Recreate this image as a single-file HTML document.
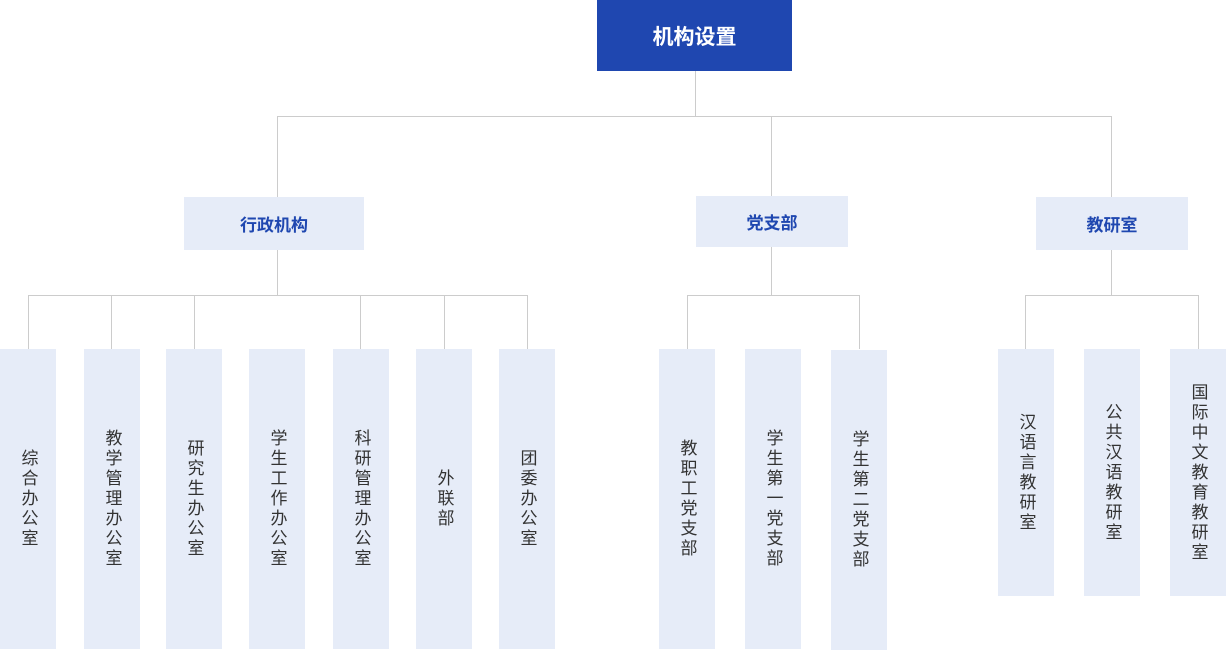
<!DOCTYPE html>
<html><head><meta charset="utf-8"><style>
*{margin:0;padding:0;box-sizing:border-box}
body{width:1226px;height:650px;position:relative;background:#fff;font-family:"Liberation Sans","Noto Sans CJK SC",sans-serif;overflow:hidden}
.b{position:absolute;display:flex;align-items:center;justify-content:center}
.top{background:#1f47b0;color:#fff;font-size:21px;font-weight:bold}
.l2{background:#e6ecf8;color:#1f47b0;font-size:17px;font-weight:bold}
.lf{background:#e6ecf8;color:#333;font-size:17px;width:56px}
.lf span{writing-mode:vertical-rl;letter-spacing:3px}
.h,.v{position:absolute;background:#cccccc}
.h{height:1px}.v{width:1px}
</style></head><body>
<div class="b top" style="left:597px;top:0;width:195px;height:71px">机构设置</div>
<div class="v" style="left:695px;top:71px;height:45px"></div>
<div class="h" style="left:277px;top:116px;width:835px"></div>
<div class="v" style="left:277px;top:116px;height:81px"></div>
<div class="v" style="left:771px;top:116px;height:80px"></div>
<div class="v" style="left:1111px;top:116px;height:81px"></div>
<div class="b l2" style="left:184px;top:197px;width:180px;height:53px">行政机构</div>
<div class="b l2" style="left:696px;top:196px;width:152px;height:51px">党支部</div>
<div class="b l2" style="left:1036px;top:197px;width:152px;height:53px">教研室</div>
<div class="v" style="left:277px;top:250px;height:45px"></div>
<div class="v" style="left:771px;top:247px;height:48px"></div>
<div class="v" style="left:1111px;top:250px;height:45px"></div>
<div class="h" style="left:28px;top:295px;width:500px"></div>
<div class="h" style="left:687px;top:295px;width:173px"></div>
<div class="h" style="left:1025px;top:295px;width:174px"></div>
<div class="v" style="left:28px;top:295px;height:54px"></div>
<div class="v" style="left:111px;top:295px;height:54px"></div>
<div class="v" style="left:194px;top:295px;height:54px"></div>
<div class="v" style="left:360px;top:295px;height:54px"></div>
<div class="v" style="left:444px;top:295px;height:54px"></div>
<div class="v" style="left:527px;top:295px;height:54px"></div>
<div class="v" style="left:687px;top:295px;height:54px"></div>
<div class="v" style="left:859px;top:295px;height:54px"></div>
<div class="v" style="left:1025px;top:295px;height:54px"></div>
<div class="v" style="left:1198px;top:295px;height:54px"></div>
<div class="b lf" style="left:0;top:349px;height:300px"><span>综合办公室</span></div>
<div class="b lf" style="left:84px;top:349px;height:300px"><span>教学管理办公室</span></div>
<div class="b lf" style="left:166px;top:349px;height:300px"><span>研究生办公室</span></div>
<div class="b lf" style="left:249px;top:349px;height:300px"><span>学生工作办公室</span></div>
<div class="b lf" style="left:333px;top:349px;height:300px"><span>科研管理办公室</span></div>
<div class="b lf" style="left:416px;top:349px;height:300px"><span>外联部</span></div>
<div class="b lf" style="left:499px;top:349px;height:300px"><span>团委办公室</span></div>
<div class="b lf" style="left:659px;top:349px;height:300px"><span>教职工党支部</span></div>
<div class="b lf" style="left:745px;top:349px;height:300px"><span>学生第一党支部</span></div>
<div class="b lf" style="left:831px;top:350px;height:300px"><span>学生第二党支部</span></div>
<div class="b lf" style="left:998px;top:349px;height:247px"><span>汉语言教研室</span></div>
<div class="b lf" style="left:1084px;top:349px;height:247px"><span>公共汉语教研室</span></div>
<div class="b lf" style="left:1170px;top:349px;height:247px"><span>国际中文教育教研室</span></div>
</body></html>
